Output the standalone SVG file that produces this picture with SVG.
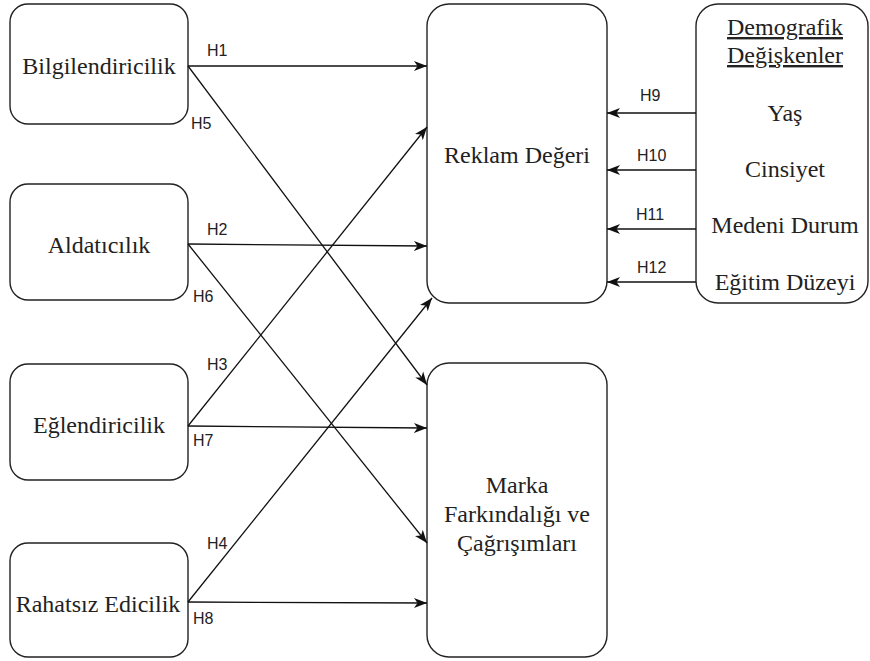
<svg xmlns="http://www.w3.org/2000/svg" width="870" height="661" viewBox="0 0 870 661">
<style>
.box{fill:#fff;stroke:#222;stroke-width:1.4}
.t{font-family:"Liberation Serif",serif;font-size:24px;fill:#222;text-anchor:middle}
.l{font-family:"Liberation Sans",Arial,sans-serif;font-size:16px;fill:#222}
.c{stroke:#111;stroke-width:1.3;fill:none;marker-end:url(#ah)}
</style>
<defs>
<marker id="ah" markerUnits="userSpaceOnUse" markerWidth="14" markerHeight="12" viewBox="0 0 14 12" refX="13" refY="6" orient="auto">
<path d="M0,1 L13,6 L0,11 L3.5,6 z" fill="#111"/>
</marker>
</defs>
<g id="n1"><rect class="box" x="10" y="4" width="178" height="120" rx="18"/><text class="t" x="99" y="74">Bilgilendiricilik</text></g>
<g id="n2"><rect class="box" x="10" y="184" width="178" height="116" rx="18"/><text class="t" x="99" y="253">Aldatıcılık</text></g>
<g id="n3"><rect class="box" x="10" y="364" width="178" height="116" rx="18"/><text class="t" x="99" y="433">Eğlendiricilik</text></g>
<g id="n4"><rect class="box" x="10" y="543" width="178" height="114" rx="18"/><text class="t" x="98" y="612">Rahatsız Edicilik</text></g>
<g id="n5"><rect class="box" x="427" y="4" width="180" height="299" rx="22"/><text class="t" x="517" y="163">Reklam Değeri</text></g>
<g id="n6"><rect class="box" x="427" y="363" width="180" height="294" rx="22"/><text class="t" x="517" y="493">Marka</text><text class="t" x="517" y="522">Farkındalığı ve</text><text class="t" x="517" y="551">Çağrışımları</text></g>
<g id="n7"><rect class="box" x="696" y="4" width="172" height="299" rx="22"/>
<text class="t" x="785" y="35" text-decoration="underline">Demografik</text>
<text class="t" x="785" y="63" text-decoration="underline">Değişkenler</text>
<text class="t" x="785" y="121">Yaş</text>
<text class="t" x="785" y="177">Cinsiyet</text>
<text class="t" x="785" y="233">Medeni Durum</text>
<text class="t" x="785" y="290">Eğitim Düzeyi</text></g>
<g id="connectors">
<path class="c" d="M188,66 L427,66"/>
<path class="c" d="M188,66 L427,385"/>
<path class="c" d="M188,244 L427,246"/>
<path class="c" d="M188,244 L427,543"/>
<path class="c" d="M188,426 L427,127"/>
<path class="c" d="M188,426 L427,428"/>
<path class="c" d="M188,602 L432,298"/>
<path class="c" d="M188,602 L427,603"/>
<path class="c" d="M696,113 L607,113"/>
<path class="c" d="M696,170 L607,170"/>
<path class="c" d="M696,229 L607,229"/>
<path class="c" d="M696,282 L607,282"/>
<text class="l" x="207" y="56">H1</text>
<text class="l" x="191" y="129">H5</text>
<text class="l" x="207" y="235">H2</text>
<text class="l" x="193" y="302">H6</text>
<text class="l" x="207" y="370">H3</text>
<text class="l" x="193" y="446">H7</text>
<text class="l" x="207" y="549">H4</text>
<text class="l" x="193" y="624">H8</text>
<text class="l" x="640" y="101">H9</text>
<text class="l" x="637" y="161">H10</text>
<text class="l" x="636" y="220">H11</text>
<text class="l" x="637" y="273">H12</text>
</g>
</svg>
